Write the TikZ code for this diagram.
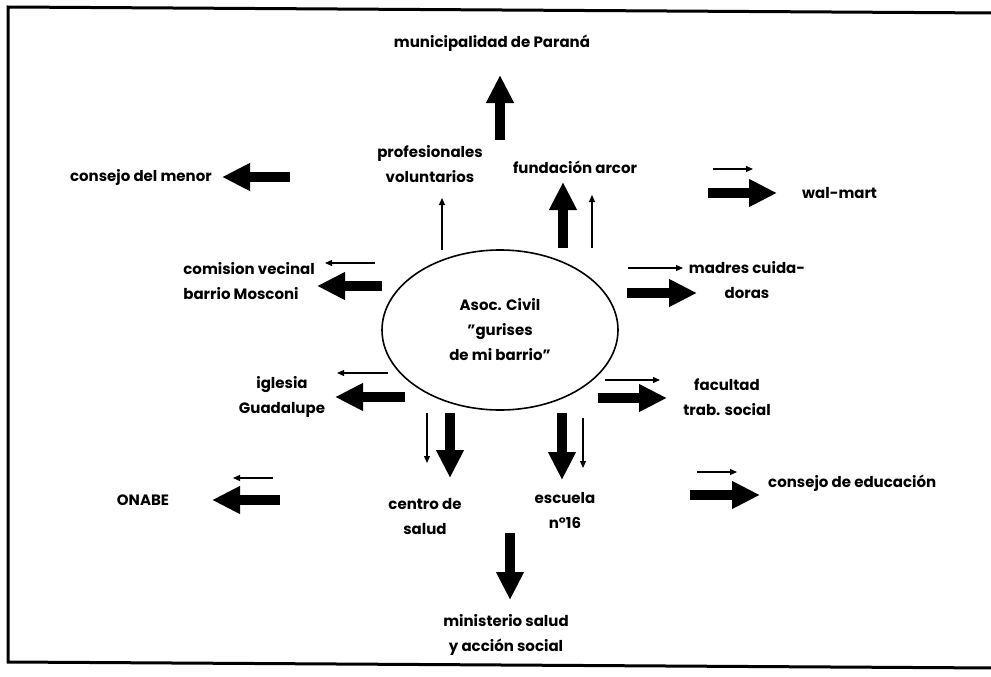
\documentclass[tikz,border=0pt]{standalone}
\usepackage{fontspec}
\setmainfont{Poppins}
\usetikzlibrary{arrows.meta,calc,shapes.geometric}

\begin{document}
\begin{tikzpicture}[x=1pt,y=-1pt,
        texto/.style={font=\bfseries\fontsize{15}{25}\selectfont,align=center,inner sep=0pt},
        gruesa/.style={line width=10pt,-{Triangle[width=26pt,length=28pt]}},
        fina/.style={line width=1.2pt,-{Triangle[width=6pt,length=7pt]}}]
        \useasboundingbox (0,0) rectangle (991,677);
        % marco
        \draw[line width=3pt] (996,13) -- (8,7) -- (8,662) -- (996,668);
        % asociacion central
        \node[draw,ellipse,line width=1.6pt,minimum width=236pt,minimum height=160pt,texto] (asoc) at (500,330) {Asoc. Civil\\\char34gurises\\de mi barrio\char34};
        % instituciones
        \node[texto] (muni) at (492,43) {municipalidad de Paraná};
        \node[texto,anchor=east] (menor) at (212,177) {consejo del menor};
        \node[texto] (prof) at (430,164) {profesionales\\voluntarios};
        \node[texto] (arcor) at (575,167) {fundación arcor};
        \node[texto,anchor=west] (walmart) at (802,193) {wal-mart};
        \node[texto,align=left,anchor=east] (comision) at (315,281) {comision vecinal\\barrio Mosconi};
        \node[texto] (madres) at (747,280) {madres cuida-\\doras};
        \node[texto] (iglesia) at (282,397) {iglesia\\Guadalupe};
        \node[texto] (facultad) at (727,397) {facultad\\trab. social};
        \node[texto] (onabe) at (143,500) {ONABE};
        \node[texto] (centro) at (425,517) {centro de\\salud};
        \node[texto] (escuela) at (565,510) {escuela\\n°16};
        \node[texto,anchor=west] (educacion) at (768,483) {consejo de educación};
        \node[texto] (ministerio) at (506,635) {ministerio salud\\y acción social};
        % flechas gruesas
        \foreach \xa/\ya/\xb/\yb in {0/-190/0/-255, -210/-153/-278/-153, -118/-44/-183/-44,
                63/-82/63/-148, 208/-137/277/-137, 127/-37/197/-37, -95/67/-165/67,
                98/68/167/68, -50/83/-50/148, 62/83/62/150, -220/170/-288/170,
                190/165/260/165, 10/203/10/270}
        \draw[gruesa] ($(asoc)+(\xa,\ya)$) -- ($(asoc)+(\xb,\yb)$);
        % flechas finas
        \foreach \xa/\ya/\xb/\yb in {-125/-67/-175/-67, -58/-80/-58/-132, 92/-82/92/-135,
                213/-161/253/-161, 128/-62/183/-62, -112/43/-163/43, 105/50/160/50,
                -73/83/-73/133, 83/88/83/138, -227/148/-267/148, 197/142/237/142}
        \draw[fina] ($(asoc)+(\xa,\ya)$) -- ($(asoc)+(\xb,\yb)$);
\end{tikzpicture}
\end{document}
